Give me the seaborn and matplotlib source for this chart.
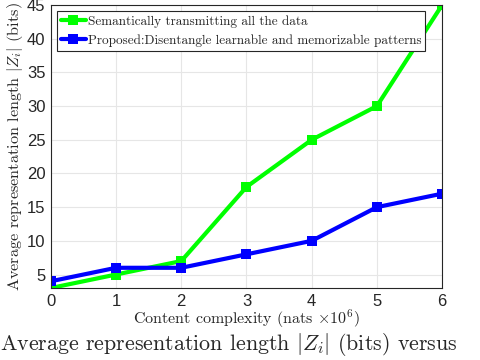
import numpy as np
import pandas as pd
import seaborn as sns
import matplotlib
matplotlib.use('Agg')
import matplotlib.pyplot as plt

complexity = [0, 1, 2, 3, 4, 5, 6]
all_data_bits = [3, 5, 7, 18, 25, 30, 45]
proposed_bits = [4, 6, 6, 8, 10, 15, 17]
series_names = ['Semantically transmitting all the data',
                'Proposed:Disentangle learnable and memorizable patterns']

df = pd.DataFrame({
    'x': complexity * 2,
    'y': all_data_bits + proposed_bits,
    'method': [series_names[0]] * 7 + [series_names[1]] * 7,
})

sns.set_theme(style='whitegrid')
plt.rcParams['font.family'] = ['Liberation Sans', 'DejaVu Sans']
plt.rcParams['mathtext.fontset'] = 'cm'

fig = plt.figure(figsize=(4.8, 3.6), dpi=100)
ax = fig.add_axes([0.106, 0.2, 0.815, 0.786])

sns.lineplot(data=df, x='x', y='y', hue='method',
             palette=['#00ff00', '#0000ff'], marker='s', markersize=6.5,
             markeredgewidth=0, linewidth=3, ax=ax)

ax.set_xlim(0, 6)
ax.set_ylim(3, 45)
ax.set_xticks(range(0, 7))
ax.set_yticks(range(5, 46, 5))
ax.tick_params(axis='both', labelsize=12, colors='#262626', direction='in',
               length=3, pad=4)
ax.grid(True, color='#e6e6e6', linewidth=0.8)
for s in ax.spines.values():
    s.set_color('#262626')
    s.set_linewidth(0.8)

ax.set_xlabel(r'Content complexity (nats $\times 10^6$)',
              fontdict={'family': 'cmr10', 'size': 11.5}, labelpad=-1)
ax.set_ylabel(r'Average representation length $|Z_i|$ (bits)',
              fontdict={'family': 'cmr10', 'size': 11.7}, labelpad=1)

leg = ax.legend(loc='upper left', bbox_to_anchor=(0.0, 1.0), frameon=True,
                fancybox=False, framealpha=1, edgecolor='#262626',
                prop={'family': 'cmr10', 'size': 9.5}, handlelength=1.9,
                handletextpad=0.15, borderpad=0.3, labelspacing=0.5,
                borderaxespad=0.45)
leg.get_frame().set_linewidth(0.8)

fig.text(0.0, 0.028, r'Average representation length $|Z_i|$ (bits) versus',
         fontfamily='cmr10', fontsize=15.8, va='baseline', ha='left')

fig.savefig('out.png', dpi=100)
